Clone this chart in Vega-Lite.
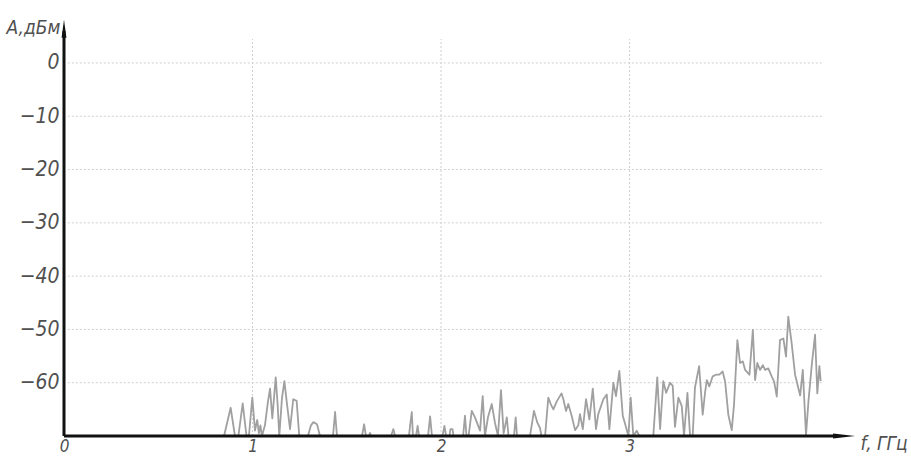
{
  "$schema": "https://vega.github.io/schema/vega-lite/v6.json",
  "width": 788,
  "height": 413,
  "autosize": {"type": "none"},
  "padding": {"left": 64, "top": 23, "right": 59, "bottom": 25},
  "background": "white",
  "config": {
    "view": {"stroke": null},
    "font": "DejaVu Sans Condensed, DejaVu Sans, sans-serif",
    "axis": {"domain": false, "ticks": false, "grid": false}
  },
  "datasets": {
    "spectrum": [
      {"f": 0.849, "a": -70}, {"f": 0.884, "a": -64.7}, {"f": 0.907, "a": -70}, {"f": 0.925, "a": -70},
      {"f": 0.948, "a": -63.9}, {"f": 0.968, "a": -70}, {"f": 0.981, "a": -70}, {"f": 0.999, "a": -62.8},
      {"f": 1.013, "a": -69}, {"f": 1.025, "a": -67}, {"f": 1.034, "a": -69.5}, {"f": 1.042, "a": -68},
      {"f": 1.05, "a": -70}, {"f": 1.066, "a": -68}, {"f": 1.082, "a": -63.5}, {"f": 1.093, "a": -61.1},
      {"f": 1.105, "a": -66.7}, {"f": 1.123, "a": -59.0}, {"f": 1.133, "a": -64}, {"f": 1.142, "a": -70},
      {"f": 1.156, "a": -63}, {"f": 1.169, "a": -59.7}, {"f": 1.183, "a": -64}, {"f": 1.199, "a": -68.7},
      {"f": 1.216, "a": -63.1}, {"f": 1.234, "a": -63.4}, {"f": 1.248, "a": -70}, {"f": 1.294, "a": -70},
      {"f": 1.31, "a": -68}, {"f": 1.323, "a": -67.4}, {"f": 1.342, "a": -67.8}, {"f": 1.358, "a": -70},
      {"f": 1.427, "a": -70}, {"f": 1.438, "a": -65.5}, {"f": 1.448, "a": -70}, {"f": 1.581, "a": -70},
      {"f": 1.592, "a": -67.8}, {"f": 1.602, "a": -70}, {"f": 1.618, "a": -70}, {"f": 1.623, "a": -69.4},
      {"f": 1.629, "a": -70}, {"f": 1.735, "a": -70}, {"f": 1.747, "a": -68.7}, {"f": 1.756, "a": -70},
      {"f": 1.83, "a": -70}, {"f": 1.836, "a": -68}, {"f": 1.845, "a": -65.5}, {"f": 1.851, "a": -70},
      {"f": 1.867, "a": -70}, {"f": 1.876, "a": -68.1}, {"f": 1.883, "a": -70}, {"f": 1.931, "a": -70},
      {"f": 1.942, "a": -66.3}, {"f": 1.952, "a": -70}, {"f": 2.008, "a": -70}, {"f": 2.018, "a": -68.1},
      {"f": 2.027, "a": -70}, {"f": 2.045, "a": -70}, {"f": 2.05, "a": -68.7}, {"f": 2.061, "a": -68.7},
      {"f": 2.066, "a": -70}, {"f": 2.117, "a": -70}, {"f": 2.127, "a": -66.2}, {"f": 2.135, "a": -70},
      {"f": 2.146, "a": -70}, {"f": 2.163, "a": -65.3}, {"f": 2.18, "a": -66.5}, {"f": 2.196, "a": -68},
      {"f": 2.207, "a": -69}, {"f": 2.221, "a": -62.5}, {"f": 2.233, "a": -70}, {"f": 2.249, "a": -66.5},
      {"f": 2.269, "a": -64.0}, {"f": 2.286, "a": -67.5}, {"f": 2.302, "a": -70}, {"f": 2.318, "a": -61.4},
      {"f": 2.332, "a": -69.5}, {"f": 2.349, "a": -66.5}, {"f": 2.358, "a": -70}, {"f": 2.387, "a": -70},
      {"f": 2.396, "a": -66.5}, {"f": 2.403, "a": -70}, {"f": 2.472, "a": -70}, {"f": 2.493, "a": -65.3},
      {"f": 2.511, "a": -67.5}, {"f": 2.525, "a": -68.5}, {"f": 2.533, "a": -70}, {"f": 2.552, "a": -70},
      {"f": 2.569, "a": -62.8}, {"f": 2.582, "a": -64}, {"f": 2.596, "a": -65}, {"f": 2.614, "a": -63.5},
      {"f": 2.639, "a": -62}, {"f": 2.649, "a": -63.1}, {"f": 2.663, "a": -65.3}, {"f": 2.675, "a": -64},
      {"f": 2.693, "a": -66.2}, {"f": 2.711, "a": -68.9}, {"f": 2.728, "a": -68}, {"f": 2.737, "a": -65.9},
      {"f": 2.752, "a": -68.7}, {"f": 2.769, "a": -63.1}, {"f": 2.787, "a": -66.9}, {"f": 2.805, "a": -61.1},
      {"f": 2.822, "a": -68.7}, {"f": 2.834, "a": -65.9}, {"f": 2.861, "a": -63.1}, {"f": 2.879, "a": -62.2},
      {"f": 2.893, "a": -68.7}, {"f": 2.914, "a": -60}, {"f": 2.928, "a": -62.5}, {"f": 2.946, "a": -57.8},
      {"f": 2.964, "a": -66.2}, {"f": 2.981, "a": -68.3}, {"f": 2.994, "a": -70}, {"f": 3.006, "a": -62.8},
      {"f": 3.02, "a": -70}, {"f": 3.038, "a": -69}, {"f": 3.052, "a": -70}, {"f": 3.126, "a": -70},
      {"f": 3.147, "a": -59.0}, {"f": 3.162, "a": -68.7}, {"f": 3.179, "a": -59.7}, {"f": 3.194, "a": -61.9},
      {"f": 3.215, "a": -60.0}, {"f": 3.229, "a": -60.6}, {"f": 3.241, "a": -68.3}, {"f": 3.259, "a": -62.8},
      {"f": 3.277, "a": -64.4}, {"f": 3.289, "a": -70}, {"f": 3.307, "a": -61.9}, {"f": 3.321, "a": -70},
      {"f": 3.335, "a": -70}, {"f": 3.347, "a": -60.9}, {"f": 3.369, "a": -56.9}, {"f": 3.388, "a": -66.0},
      {"f": 3.401, "a": -61.7}, {"f": 3.41, "a": -59.5}, {"f": 3.423, "a": -60.7}, {"f": 3.441, "a": -58.8},
      {"f": 3.459, "a": -58.5}, {"f": 3.476, "a": -58.5}, {"f": 3.494, "a": -57.9}, {"f": 3.507, "a": -59.8},
      {"f": 3.524, "a": -66.0}, {"f": 3.542, "a": -68.9}, {"f": 3.554, "a": -64.2}, {"f": 3.572, "a": -52.0},
      {"f": 3.586, "a": -56.3}, {"f": 3.601, "a": -56.0}, {"f": 3.613, "a": -57.6}, {"f": 3.636, "a": -58.5},
      {"f": 3.654, "a": -50.1}, {"f": 3.666, "a": -59.5}, {"f": 3.678, "a": -56.3}, {"f": 3.692, "a": -57.6},
      {"f": 3.707, "a": -56.7}, {"f": 3.719, "a": -57.6}, {"f": 3.736, "a": -57.3}, {"f": 3.754, "a": -58.8},
      {"f": 3.767, "a": -59.8}, {"f": 3.781, "a": -62.6}, {"f": 3.798, "a": -52.0}, {"f": 3.816, "a": -51.7},
      {"f": 3.83, "a": -55.1}, {"f": 3.842, "a": -47.6}, {"f": 3.86, "a": -52.6}, {"f": 3.878, "a": -58.5},
      {"f": 3.905, "a": -62.4}, {"f": 3.919, "a": -57.6}, {"f": 3.936, "a": -69.8}, {"f": 3.949, "a": -63.5},
      {"f": 3.967, "a": -56.5}, {"f": 3.984, "a": -51.0}, {"f": 3.996, "a": -62.0}, {"f": 4.007, "a": -56.9},
      {"f": 4.014, "a": -59.7}
    ],
    "hgrid": [
      {"f": 0.02, "f2": 4.02, "a": 0}, {"f": 0.02, "f2": 4.02, "a": -10}, {"f": 0.02, "f2": 4.02, "a": -20},
      {"f": 0.02, "f2": 4.02, "a": -30}, {"f": 0.02, "f2": 4.02, "a": -40}, {"f": 0.02, "f2": 4.02, "a": -50},
      {"f": 0.02, "f2": 4.02, "a": -60}
    ],
    "vgrid": [
      {"f": 1, "a": -70, "a2": 4.5}, {"f": 2, "a": -70, "a2": 4.5}, {"f": 3, "a": -70, "a2": 4.5}
    ],
    "axisLines": [
      {"f": 0, "f2": 0, "a": -70, "a2": 6},
      {"f": 0, "f2": 4.1, "a": -70, "a2": -70}
    ],
    "arrowUp": [{"f": 0, "a": 6.4}],
    "arrowRight": [{"f": 4.138, "a": -70}]
  },
  "encoding": {
    "x": {
      "field": "f", "type": "quantitative",
      "scale": {"domain": [0, 4.18], "nice": false, "zero": false},
      "axis": {
        "values": [0, 1, 2, 3], "domain": false, "ticks": false, "grid": false,
        "labelFont": "DejaVu Sans Condensed", "labelFontStyle": "italic",
        "labelFontSize": 17, "labelColor": "#505050", "labelPadding": 2, "labelDx": -3,
        "labelBaseline": "top", "labelFlush": false,
        "title": "f, ГГц", "titleFont": "DejaVu Sans Condensed",
        "titleFontStyle": "italic", "titleFontWeight": "normal", "titleFontSize": 19, "titleColor": "#505050",
        "titleAngle": 0, "titleAlign": "left", "titleBaseline": "middle", "titleX": 796, "titleY": 7
      }
    },
    "y": {
      "field": "a", "type": "quantitative",
      "scale": {"domain": [-70, 7.5], "nice": false, "zero": false},
      "axis": {
        "values": [0, -10, -20, -30, -40, -50, -60], "domain": false, "ticks": false, "grid": false,
        "labelFont": "DejaVu Sans Condensed", "labelFontStyle": "italic",
        "labelFontSize": 21, "labelColor": "#505050", "labelPadding": 5, "labelFlush": false,
        "title": "A,дБм", "titleFont": "DejaVu Sans Condensed",
        "titleFontStyle": "italic", "titleFontWeight": "normal", "titleFontSize": 19, "titleColor": "#505050",
        "titleAngle": 0, "titleAlign": "right", "titleBaseline": "middle", "titleX": -4, "titleY": 4
      }
    }
  },
  "layer": [
    {
      "data": {"name": "hgrid"},
      "mark": {"type": "rule", "color": "#cfcfcf", "strokeWidth": 1, "strokeDash": [2, 2]},
      "encoding": {"x2": {"field": "f2"}}
    },
    {
      "data": {"name": "vgrid"},
      "mark": {"type": "rule", "color": "#cfcfcf", "strokeWidth": 1, "strokeDash": [2, 2]},
      "encoding": {"y2": {"field": "a2"}}
    },
    {
      "data": {"name": "spectrum"},
      "mark": {"type": "line", "color": "#a0a0a0", "strokeWidth": 1.8, "strokeJoin": "round"},
      "encoding": {}
    },
    {
      "data": {"name": "axisLines"},
      "mark": {"type": "rule", "color": "#111111", "strokeWidth": 3},
      "encoding": {"x2": {"field": "f2"}, "y2": {"field": "a2"}}
    },
    {
      "data": {"name": "arrowUp"},
      "mark": {"type": "point", "shape": "M0,-1L0.27,1L-0.27,1Z", "size": 324, "filled": true, "color": "#111111", "opacity": 1},
      "encoding": {}
    },
    {
      "data": {"name": "arrowRight"},
      "mark": {"type": "point", "shape": "M1,0L-1,0.22L-1,-0.22Z", "size": 484, "filled": true, "color": "#111111", "opacity": 1},
      "encoding": {}
    }
  ]
}
